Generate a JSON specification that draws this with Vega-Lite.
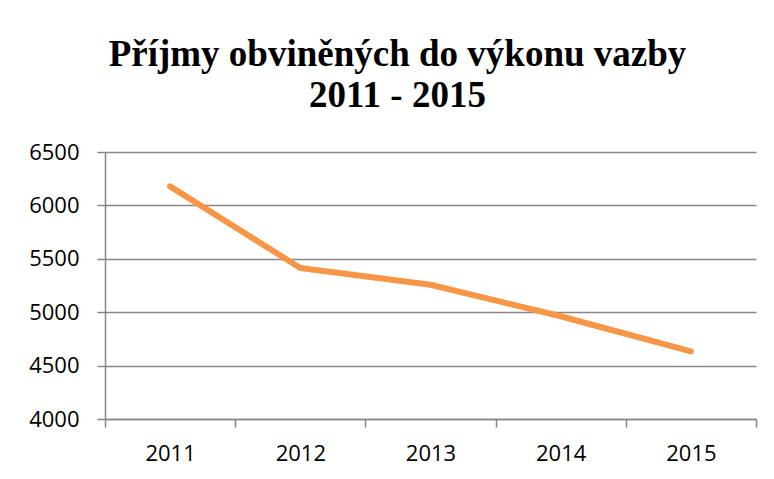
{
  "$schema": "https://vega.github.io/schema/vega-lite/v6.json",
  "width": 651,
  "height": 267,
  "autosize": "none",
  "padding": {"left": 105, "top": 152, "right": 18, "bottom": 60},
  "background": "white",
  "title": {
    "text": ["Příjmy obviněných do výkonu vazby", "2011 - 2015"],
    "font": "Liberation Serif",
    "fontSize": 37,
    "fontWeight": "bold",
    "color": "black",
    "lineHeight": 41,
    "anchor": "middle",
    "dx": -33,
    "offset": 26
  },
  "data": {
    "values": [
      {"rok": "2011", "pocet": 6178},
      {"rok": "2012", "pocet": 5414},
      {"rok": "2013", "pocet": 5257},
      {"rok": "2014", "pocet": 4962},
      {"rok": "2015", "pocet": 4633}
    ]
  },
  "mark": {"type": "line", "color": "#F79646", "strokeWidth": 6, "strokeCap": "round", "strokeJoin": "round"},
  "encoding": {
    "x": {
      "field": "rok",
      "type": "ordinal",
      "scale": {"paddingInner": 0, "paddingOuter": 0},
      "axis": {
        "title": null,
        "labelAngle": 0,
        "tickBand": "extent",
        "grid": false,
        "domainColor": "#868686",
        "domainWidth": 1.5,
        "tickColor": "#868686",
        "tickWidth": 1.5,
        "tickSize": 8,
        "labelFont": "Open Sans",
        "labelFontSize": 22,
        "labelColor": "black",
        "labelPadding": 16
      }
    },
    "y": {
      "field": "pocet",
      "type": "quantitative",
      "scale": {"domain": [4000, 6500], "nice": false, "zero": false},
      "axis": {
        "title": null,
        "values": [4000, 4500, 5000, 5500, 6000, 6500],
        "format": "d",
        "grid": true,
        "gridColor": "#868686",
        "gridWidth": 1.5,
        "domainColor": "#868686",
        "domainWidth": 1.5,
        "tickColor": "#868686",
        "tickWidth": 1.5,
        "tickSize": 8,
        "labelFont": "Open Sans",
        "labelFontSize": 22,
        "labelColor": "black",
        "labelPadding": 18
      }
    }
  },
  "config": {"view": {"stroke": null}}
}
